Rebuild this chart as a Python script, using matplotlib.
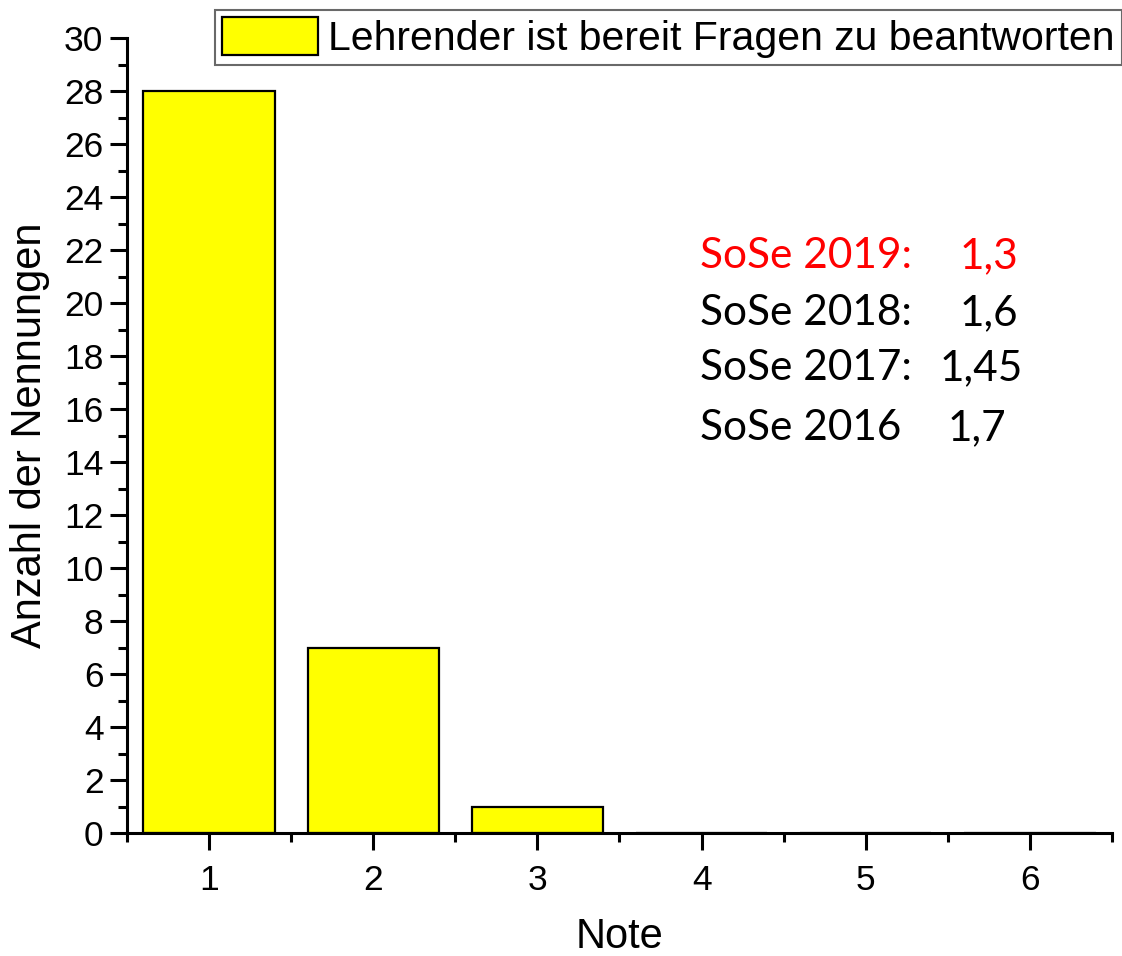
import matplotlib
matplotlib.use("Agg")
import matplotlib.pyplot as plt
from matplotlib.ticker import MultipleLocator

notes = [1, 2, 3, 4, 5, 6]
counts = [28, 7, 1, 0, 0, 0]
legend_label = "Lehrender ist bereit Fragen zu beantworten"
semesters = ["SoSe 2019:", "SoSe 2018:", "SoSe 2017:", "SoSe 2016"]
averages = ["1,3", "1,6", "1,45", "1,7"]
text_colors = ["#ff0000", "black", "black", "black"]

plt.rcParams['font.family'] = ['Liberation Sans', 'DejaVu Sans']

W, H = 1122, 956
fig = plt.figure(figsize=(W / 100, H / 100), dpi=100)
ax = fig.add_axes([127 / W, 1 - 833 / H, (1112 - 127) / W, (833 - 38) / H])

bars = ax.bar(notes, counts, width=0.8, color="#ffff00", edgecolor="black",
              linewidth=1.6, label=legend_label, zorder=2)

ax.set_xlim(0.5, 6.5)
ax.set_ylim(0, 30)
ax.xaxis.set_major_locator(MultipleLocator(1))
ax.xaxis.set_minor_locator(MultipleLocator(0.5))
ax.yaxis.set_major_locator(MultipleLocator(2))
ax.yaxis.set_minor_locator(MultipleLocator(1))

for s in ["top", "right"]:
    ax.spines[s].set_visible(False)
for s in ["left", "bottom"]:
    ax.spines[s].set_linewidth(2.2)
    ax.spines[s].set_zorder(3)

ax.tick_params(which="major", direction="out", length=12, width=2.2, labelsize=25.5, pad=5)
ax.tick_params(which="minor", direction="out", length=6.5, width=2.2)
ax.tick_params(axis="x", pad=10)

ax.set_xlabel("Note", fontsize=30, labelpad=15)
ax.set_ylabel("Anzahl der Nennungen", fontsize=30, labelpad=10)

leg = fig.legend(handles=[bars], labels=[legend_label], loc="upper left",
                 bbox_to_anchor=(215 / W, 1 - 10 / H), fontsize=29.5,
                 frameon=True, fancybox=False, borderpad=0.17,
                 handlelength=2.35, handleheight=1.07, handletextpad=0.25,
                 borderaxespad=0)
leg.get_frame().set_edgecolor("#444444")
leg.get_frame().set_linewidth(1.5)

ys = [256, 313, 368, 428]
val_x = [960, 960, 940, 948]
for sem, avg, col, y, vx in zip(semesters, averages, text_colors, ys, val_x):
    fig.text(700 / W, 1 - y / H, sem, color=col, fontsize=30.5,
             family=['Lato', 'DejaVu Sans'], va="center", ha="left")
    fig.text(vx / W, 1 - y / H, avg, color=col, fontsize=30.5,
             family=['Lato', 'DejaVu Sans'], va="center", ha="left")

fig.savefig("out.png", dpi=100)
